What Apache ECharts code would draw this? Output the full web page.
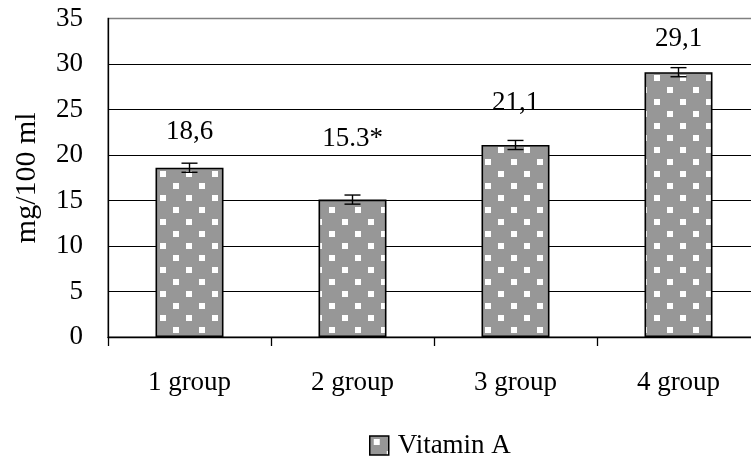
<!DOCTYPE html>
<html>
<head>
<meta charset="utf-8">
<script src="https://cdn.jsdelivr.net/npm/echarts@6/dist/echarts.min.js"></script>
<style>
  html, body { margin: 0; padding: 0; background: #fff; overflow: hidden; width: 751px; height: 457px; }
  #chart { width: 770px; height: 457px; }
</style>
</head>
<body>
<div id="chart"></div>
<script>
// ---- data ----
const categories = ['1 group', '2 group', '3 group', '4 group'];
const values = [18.6, 15.1, 21.1, 29.1];
const errors = [0.5, 0.5, 0.5, 0.5];
const valueLabels = ['18,6', '15.3*', '21,1', '29,1'];
const seriesName = 'Vitamin A';
const yAxisTitle = 'mg/100 ml';
const yMin = 0, yMax = 35, yStep = 5;

// ---- layout/style (not data) ----
const labelDistance = [22, 47, 29, 20];
const FONT = 'Liberation Serif';

function makePattern() {
  const c = document.createElement('canvas');
  c.width = 26; c.height = 24;
  const ctx = c.getContext('2d');
  ctx.fillStyle = '#979797';
  ctx.fillRect(0, 0, 26, 24);
  ctx.fillStyle = '#ffffff';
  ctx.fillRect(4, 3, 6, 6);
  ctx.fillRect(17, 15, 6, 6);
  return c;
}
const pattern = { image: makePattern(), repeat: 'repeat' };

const chart = echarts.init(document.getElementById('chart'), null, { renderer: 'canvas', width: 770, height: 457 });

const option = {
  animation: false,
  backgroundColor: '#ffffff',
  textStyle: { fontFamily: FONT, color: '#000' },
  grid: {
    left: 108, top: 18.5, right: 10, bottom: 120,
    show: true, borderColor: '#808080', borderWidth: 1.5, backgroundColor: 'transparent'
  },
  legend: {
    data: [seriesName],
    left: 364, top: 427,
    icon: 'rect',
    itemWidth: 19, itemHeight: 19,
    itemStyle: { borderColor: '#000', borderWidth: 1.5 },
    textStyle: { fontFamily: FONT, fontSize: 27, color: '#000', padding: [0, 0, 0, 4] }
  },
  xAxis: {
    type: 'category',
    data: categories,
    axisLine: { show: true, lineStyle: { color: '#000', width: 1.3 } },
    axisTick: { show: true, alignWithLabel: false, length: 9, lineStyle: { color: '#000', width: 1.3 } },
    axisLabel: { fontFamily: FONT, fontSize: 27, color: '#000', margin: 32 },
    splitLine: { show: false }
  },
  yAxis: {
    type: 'value',
    min: yMin, max: yMax, interval: yStep,
    name: yAxisTitle,
    nameLocation: 'middle',
    nameGap: 66,
    nameRotate: 90,
    nameTextStyle: { fontFamily: FONT, fontSize: 30, color: '#000' },
    axisLine: { show: true, lineStyle: { color: '#000', width: 1.3 } },
    axisTick: { show: false },
    axisLabel: { fontFamily: FONT, fontSize: 27, color: '#000', margin: 25 },
    splitLine: { show: true, showMaxLine: false, lineStyle: { color: '#000', width: 1.2 } }
  },
  series: [
    {
      name: seriesName,
      type: 'bar',
      barWidth: 68,
      data: values.map((v, i) => ({
        value: v,
        label: { distance: labelDistance[i] }
      })),
      itemStyle: { color: pattern, borderColor: '#000', borderWidth: 1.6 },
      label: {
        show: true,
        position: 'top',
        fontFamily: FONT,
        fontSize: 27,
        lineHeight: 27,
        color: '#000',
        formatter: p => valueLabels[p.dataIndex]
      },
      z: 2
    },
    {
      name: 'err',
      type: 'custom',
      data: values.map((v, i) => [i, v, errors[i]]),
      renderItem: function (params, api) {
        const x = api.value(0), y = api.value(1), e = api.value(2);
        const top = api.coord([x, y + e]);
        const bot = api.coord([x, y - e]);
        const hw = 8;
        const st = { stroke: '#000', lineWidth: 1.4 };
        return {
          type: 'group',
          children: [
            { type: 'line', shape: { x1: top[0], y1: top[1], x2: bot[0], y2: bot[1] }, style: st },
            { type: 'line', shape: { x1: top[0] - hw, y1: top[1], x2: top[0] + hw, y2: top[1] }, style: st },
            { type: 'line', shape: { x1: bot[0] - hw, y1: bot[1], x2: bot[0] + hw, y2: bot[1] }, style: st }
          ]
        };
      },
      z: 5,
      silent: true
    }
  ]
};
chart.setOption(option);
</script>
</body>
</html>
